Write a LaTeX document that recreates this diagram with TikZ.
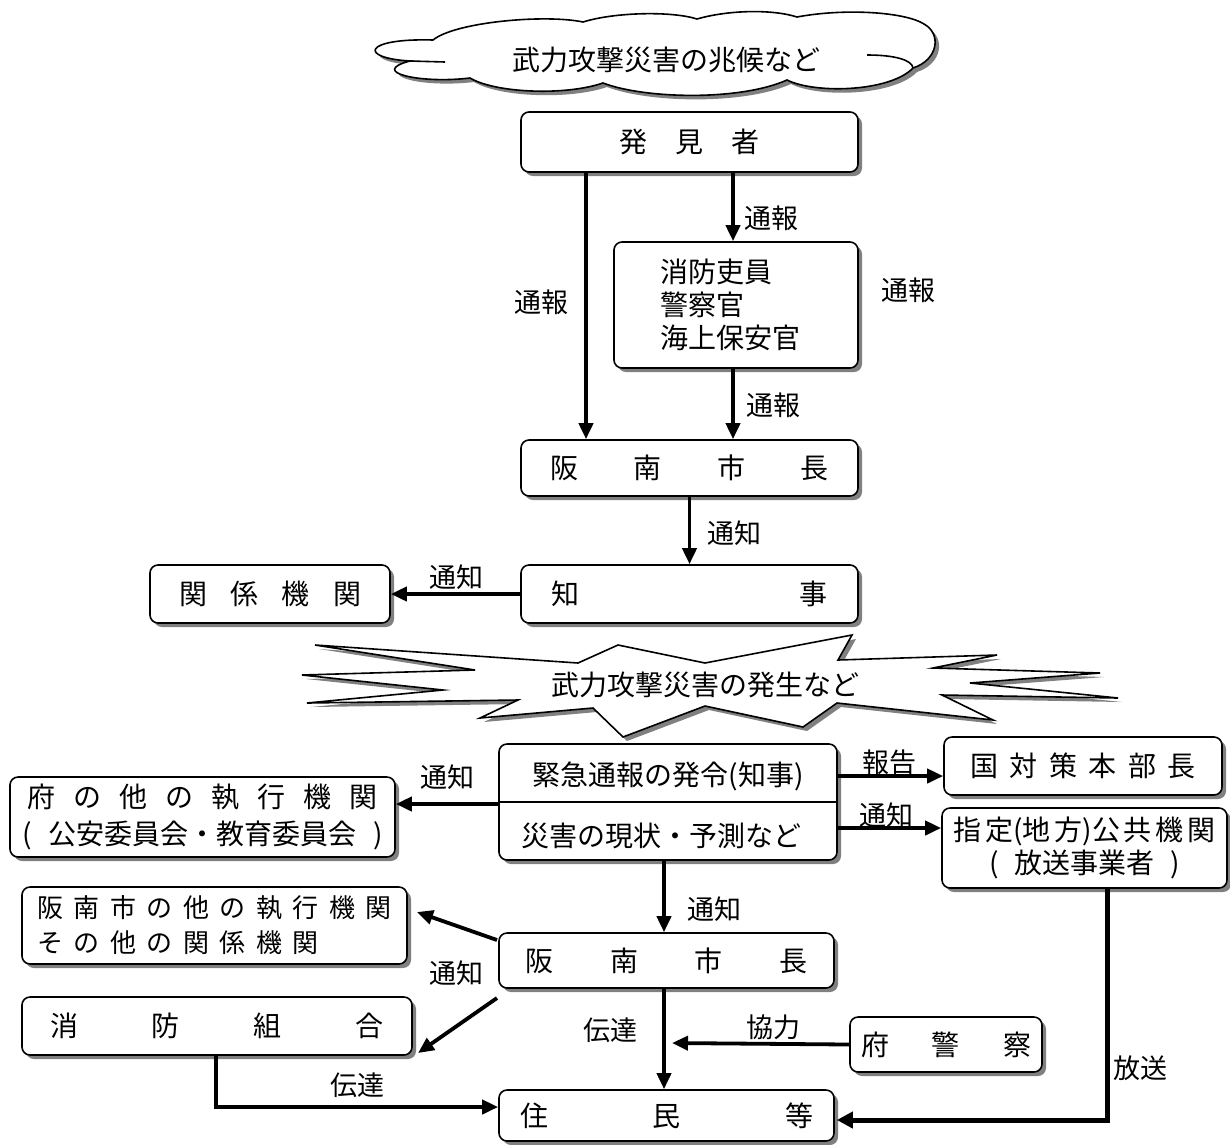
\documentclass[tikz,border=0pt]{standalone}
\usepackage{fontspec}
\setmainfont{Noto Sans CJK JP}
\usetikzlibrary{arrows.meta,shadows}
\definecolor{shadowgray}{RGB}{128,128,128}
\newcommand{\spreadchars}[2]{\makebox[#1][s]{#2}}

\begin{document}
\begin{tikzpicture}[x=1pt,y=-1pt,
  every node/.style={font=\fontsize{28}{33}\selectfont},
  box/.style={draw,line width=1.6pt,rounded corners=8pt,fill=white,inner sep=0pt,
    drop shadow={shadow xshift=4pt,shadow yshift=-4pt,fill=shadowgray,opacity=1}},
  outline/.style={draw,line width=1.6pt,fill=white,
    drop shadow={shadow xshift=4pt,shadow yshift=-4pt,fill=shadowgray,opacity=1}},
  arr/.style={line width=3.8pt,-{Triangle[length=16pt,width=14pt]}},
  lbl/.style={font=\fontsize{27}{30}\selectfont,inner sep=0pt}]
  \useasboundingbox (0,0) rectangle (1230,1144);

  % cloud
  \path[outline] (433,40)
    .. controls (455,22) and (545,14) .. (583,22)
    .. controls (615,12) and (672,11) .. (697,19)
    .. controls (728,10) and (772,9) .. (797,17)
    .. controls (845,8) and (905,12) .. (924,24)
    .. controls (942,34) and (938,60) .. (913,68)
    .. controls (890,92) and (815,94) .. (787,80)
    .. controls (740,101) and (645,99) .. (603,83)
    .. controls (565,96) and (495,93) .. (470,78)
    .. controls (420,84) and (368,72) .. (410,61)
    .. controls (358,58) and (363,38) .. (433,40) -- cycle;
  \draw[line width=1.6pt] (410,61) -- (445,62);
  \draw[line width=1.6pt] (867,55) .. controls (895,55) and (912,60) .. (913,68);
  \node (kizashi) at (666,60) {武力攻撃災害の兆候など};

  % first alarm
  \node[box,minimum width=337pt,minimum height=60pt] (hakken) at (689.5,142)
    {\spreadchars{140pt}{発\hfill 見\hfill 者}};
  \node[box,minimum width=244pt,minimum height=126pt,align=left] (keisatsu) at (736,305)
    {\hspace*{-12pt}消防吏員\\\hspace*{-12pt}警察官\\\hspace*{-12pt}海上保安官};
  \node[box,minimum width=337pt,minimum height=56pt] (shicho) at (689.5,468)
    {\spreadchars{278pt}{阪\hfill 南\hfill 市\hfill 長}};
  \node[box,minimum width=337pt,minimum height=58pt] (chiji) at (689.5,594)
    {\spreadchars{276pt}{知\hfill 事}};
  \node[box,minimum width=240pt,minimum height=58pt] (kankei) at (270,594)
    {\spreadchars{182pt}{関\hfill 係\hfill 機\hfill 関}};

  \draw[arr] (586,0 |- hakken.south) -- (586,0 |- shicho.north);
  \draw[arr] (733,0 |- hakken.south) -- (733,0 |- keisatsu.north);
  \draw[arr] (733,0 |- keisatsu.south) -- (733,0 |- shicho.north);
  \draw[arr] (shicho.south) -- (chiji.north);
  \draw[arr] (chiji.west) -- (kankei.east);

  \node[lbl] (tsuho1) at (541,302) {通報};
  \node[lbl] (tsuho2) at (771,218) {通報};
  \node[lbl] (tsuho3) at (773,405) {通報};
  \node[lbl] (tsuho4) at (908,290) {通報};
  \node[lbl] (tsuchi1) at (734,533) {通知};
  \node[lbl] (tsuchi2) at (456,577) {通知};

  % burst
  \path[outline] (315,645) -- (578,663) -- (618,645) -- (705,663) -- (852,635)
    -- (838,660) -- (997,655) -- (933,668) -- (1100,673) -- (970,683)
    -- (1118,698) -- (942,695) -- (993,720) -- (837,703) -- (803,727)
    -- (705,706) -- (623,737) -- (593,708) -- (480,718) -- (518,700)
    -- (307,703) -- (443,690) -- (302,675) -- (475,670) -- cycle;
  \node (hassei) at (705,685) {武力攻撃災害の発生など};

  % emergency notice
  \node[box,minimum width=338pt,minimum height=116pt] (kinkyu) at (668,802) {};
  \draw[line width=1.6pt] (kinkyu.west) -- (kinkyu.east);
  \node (hatsurei) at (668,776) {緊急通報の発令(知事)};
  \node (genjo) at (661,836) {災害の現状・予測など};

  \node[box,minimum width=278pt,minimum height=58pt] (kokutai) at (1083,766)
    {\spreadchars{225pt}{国\hfill 対\hfill 策\hfill 本\hfill 部\hfill 長}};
  \node[box,minimum width=285pt,minimum height=80pt,align=center] (shitei) at (1084.5,848)
    {\spreadchars{262pt}{指\hfill 定(地\hfill 方)公\hfill 共\hfill 機\hfill 関}\\
     \spreadchars{190pt}{(\hfill 放送事業者\hfill )}};
  \node[box,minimum width=385pt,minimum height=80pt,align=center,
    font=\fontsize{28}{37}\selectfont] (fusikko) at (202.5,817)
    {\spreadchars{350pt}{府\hfill の\hfill 他\hfill の\hfill 執\hfill 行\hfill 機\hfill 関}\\
     \spreadchars{360pt}{(\hfill 公安委員会・教育委員会\hfill )}};
  \node[box,minimum width=385pt,minimum height=77pt,align=left,
    font=\fontsize{26}{35}\selectfont] (shisikko) at (214.5,925.5)
    {\spreadchars{355pt}{阪\hfill 南\hfill 市\hfill の\hfill 他\hfill の\hfill 執\hfill 行\hfill 機\hfill 関}\\
     \spreadchars{282pt}{そ\hfill の\hfill 他\hfill の\hfill 関\hfill 係\hfill 機\hfill 関}};
  \node[box,minimum width=335pt,minimum height=55pt] (shicho2) at (666.5,960.5)
    {\spreadchars{282pt}{阪\hfill 南\hfill 市\hfill 長}};
  \node[box,minimum width=390pt,minimum height=58pt] (kumiai) at (217,1026)
    {\spreadchars{334pt}{消\hfill 防\hfill 組\hfill 合}};
  \node[box,minimum width=192pt,minimum height=55pt] (fukei) at (946,1044.5)
    {\spreadchars{170pt}{府\hfill 警\hfill 察}};
  \node[box,minimum width=335pt,minimum height=51pt] (jumin) at (666.5,1115.5)
    {\spreadchars{293pt}{住\hfill 民\hfill 等}};
  \coordinate (kyoryoku) at (672,1043);

  \draw[arr] (kinkyu.east |- 0,776) -- (kokutai.west |- 0,776);
  \draw[arr] (kinkyu.east |- 0,828) -- (shitei.west |- 0,828);
  \draw[arr] (kinkyu.west |- 0,804) -- (fusikko.east |- 0,804);
  \draw[arr] (664,0 |- kinkyu.south) -- (664,0 |- shicho2.north);
  \draw[arr] (497,940) -- (417,912);
  \draw[arr] (497,998) -- (418,1053);
  \draw[arr] (664,0 |- shicho2.south) -- (664,0 |- jumin.north);
  \draw[arr] (fukei.west) -- (kyoryoku);
  \draw[arr] (216,0 |- kumiai.south) |- (jumin.west |- 0,1107);
  \draw[line width=5pt,-{Triangle[length=16pt,width=16pt]}]
    (1107,0 |- shitei.south) |- ([xshift=2pt]jumin.east |- 0,1120);

  \node[lbl] (hokoku) at (889,762) {報告};
  \node[lbl] (tsuchi3) at (886,815) {通知};
  \node[lbl] (tsuchi4) at (447,777) {通知};
  \node[lbl] (tsuchi5) at (714,909) {通知};
  \node[lbl] (tsuchi6) at (456,973) {通知};
  \node[lbl] (dentatsu1) at (610,1030) {伝達};
  \node[lbl] (kyoryokulbl) at (773,1027) {協力};
  \node[lbl] (dentatsu2) at (357,1085) {伝達};
  \node[lbl] (hoso) at (1140,1068) {放送};
\end{tikzpicture}
\end{document}
